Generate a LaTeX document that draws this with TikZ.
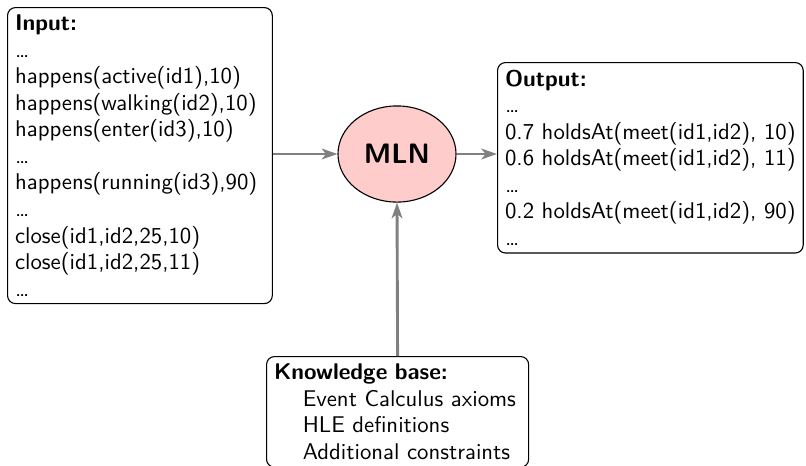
\documentclass[tikz,border=0pt]{standalone}
\usepackage{fontspec}
\usetikzlibrary{arrows.meta,shapes.geometric}
\begin{document}
\begin{tikzpicture}[x=0.4525pt,y=-0.4525pt,
  font=\sffamily\fontsize{10.3}{12}\selectfont,
  box/.style={draw, rounded corners=3.6pt, align=left, anchor=north west,
    inner sep=3.4pt, line width=0.5pt},
  conn/.style={draw=gray, line width=1.3pt,
    -{Stealth[length=7pt,width=4.8pt,inset=1.8pt]}},
  mlnnode/.style={ellipse, draw, line width=0.5pt, fill=red!20,
    minimum width=53.4pt, minimum height=43.5pt,
    font=\sffamily\bfseries\fontsize{12.7}{15}\selectfont}]
\useasboundingbox (0,0) rectangle (806,465);

\node[box, text width=113pt] (in) at (7,7) {\textbf{Input:}\\
\dots\\
happens(active(id1),10)\\
happens(walking(id2),10)\\
happens(enter(id3),10)\\
\dots\\
happens(running(id3),90)\\
\dots\\
close(id1,id2,25,10)\\
close(id1,id2,25,11)\\
\dots};

\node[mlnnode] (mln) at (397,154) {MLN};

\node[box] (out) at (497,62) {\textbf{Output:}\\
\dots\\
0.7 holdsAt(meet(id1,id2), 10)\\
0.6 holdsAt(meet(id1,id2), 11)\\
\dots\\
0.2 holdsAt(meet(id1,id2), 90)\\
\dots};

\node[box, text width=111.8pt] (kb) at (266,356) {\textbf{Knowledge base:}\\
\hspace*{13pt}Event Calculus axioms\\
\hspace*{13pt}HLE definitions\\
\hspace*{13pt}Additional constraints};

\draw[conn] (in.east |- mln) -- (mln.west);
\draw[conn] (mln.east) -- (mln.east -| out.west);
\draw[conn] (kb.north) -- (mln.south);
\end{tikzpicture}
\end{document}
